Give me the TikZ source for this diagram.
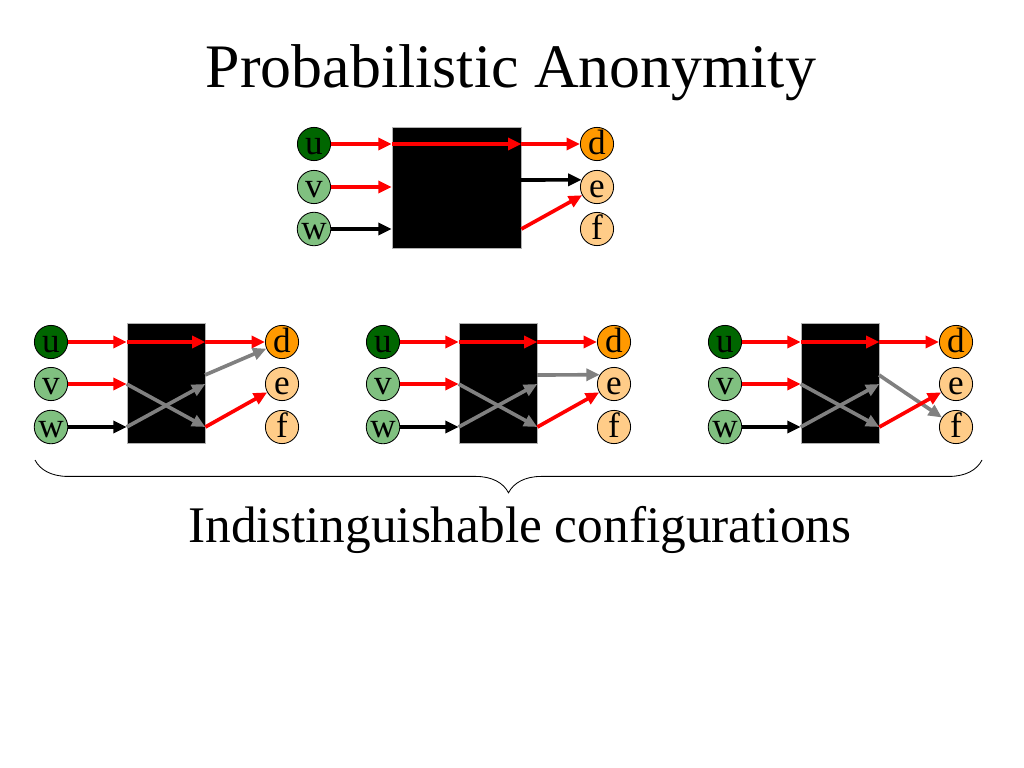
\documentclass[tikz,border=0pt]{standalone}
\usepackage{fontspec}
\setmainfont{Liberation Serif}
\usetikzlibrary{arrows.meta,decorations.pathreplacing}

\definecolor{srcdark}{RGB}{0,102,0}
\definecolor{srclight}{RGB}{128,192,128}
\definecolor{dstdark}{RGB}{255,153,0}
\definecolor{dstlight}{RGB}{255,204,136}

\begin{document}
\begin{tikzpicture}[x=0.025cm,y=-0.025cm]
    \tikzstyle{vertex}=[circle,draw=black,line width=0.6pt,minimum size=0.83cm,inner sep=0pt,
        font=\fontsize{25}{25}\selectfont,text height=15.5pt,text depth=0pt]
    \tikzstyle{mixbox}=[draw=gray!60,line width=0.5pt,fill=black,inner sep=0pt]
    \tikzstyle{flow}=[line width=2.6pt,-{Triangle[length=9.5pt,width=8.5pt]}]
    \useasboundingbox (0,0) rectangle (1024,768);

    \node[anchor=base,font=\fontsize{44}{44}\selectfont] (title) at (511,88) {Probabilistic Anonymity};

    % what the observer sees
    \node[mixbox,minimum width=3.225cm,minimum height=3.025cm] (box) at (456.5,187.5) {};
    \foreach \name/\y/\col in {u/144/srcdark, v/187/srclight, w/229/srclight}
        \node[vertex,fill=\col] (\name) at (314,\y) {\name};
    \foreach \name/\y/\col in {d/144/dstdark, e/187/dstlight, f/229/dstlight}
        \node[vertex,fill=\col] (\name) at (597,\y) {\name};

    \draw[flow,red] (u) -- (u -| box.west);
    \draw[flow,red] (u -| box.west) -- (u -| box.east);
    \draw[flow,red] (u -| box.east) -- (d);
    \draw[flow,red] (v) -- (v -| box.west);
    \draw[flow,black] (w) -- (w -| box.west);
    \coordinate (box-out) at (521,180);
    \draw[flow,black] (box-out) -- (e.155);
    \draw[flow,red] (w -| box.east) -- (e);

    % the three configurations
    \foreach \k/\xo/\tgt/\ang in {1/0/d/203, 2/332/e/147, 3/674/f/146} {
        \begin{scope}[shift={(\xo,0)}]
            \node[mixbox,minimum width=1.95cm,minimum height=3cm] (box-\k) at (166,383) {};
            \foreach \name/\y/\col in {u/342/srcdark, v/384/srclight, w/427/srclight}
                \node[vertex,fill=\col] (\name-\k) at (51,\y) {\name};
            \foreach \name/\y/\col in {d/342/dstdark, e/384/dstlight, f/427/dstlight}
                \node[vertex,fill=\col] (\name-\k) at (282,\y) {\name};

            \draw[flow,red] (u-\k) -- (u-\k -| box-\k.west);
            \draw[flow,red] (u-\k -| box-\k.west) -- (u-\k -| box-\k.east);
            \draw[flow,red] (u-\k -| box-\k.east) -- (d-\k);
            \draw[flow,red] (v-\k) -- (v-\k -| box-\k.west);
            \draw[flow,black] (w-\k) -- (w-\k -| box-\k.west);
            \draw[flow,gray] (v-\k -| box-\k.west) -- (w-\k -| box-\k.east);
            \draw[flow,gray] (w-\k -| box-\k.west) -- (v-\k -| box-\k.east);
            \coordinate (out-\k) at (205,375);
            \draw[flow,gray] (out-\k) -- (\tgt-\k.\ang);
            \draw[flow,red] (w-\k -| box-\k.east) -- (e-\k);
        \end{scope}
    }

    \coordinate (brace-l) at (35,460);
    \coordinate (brace-r) at (982,460);
    \draw[line width=0.6pt,decorate,decoration={brace,mirror,amplitude=0.82cm}] (brace-l) -- (brace-r);

    \node[anchor=base,font=\fontsize{36.5}{36.5}\selectfont] (caption) at (520,542) {Indistinguishable configurations};
\end{tikzpicture}
\end{document}
